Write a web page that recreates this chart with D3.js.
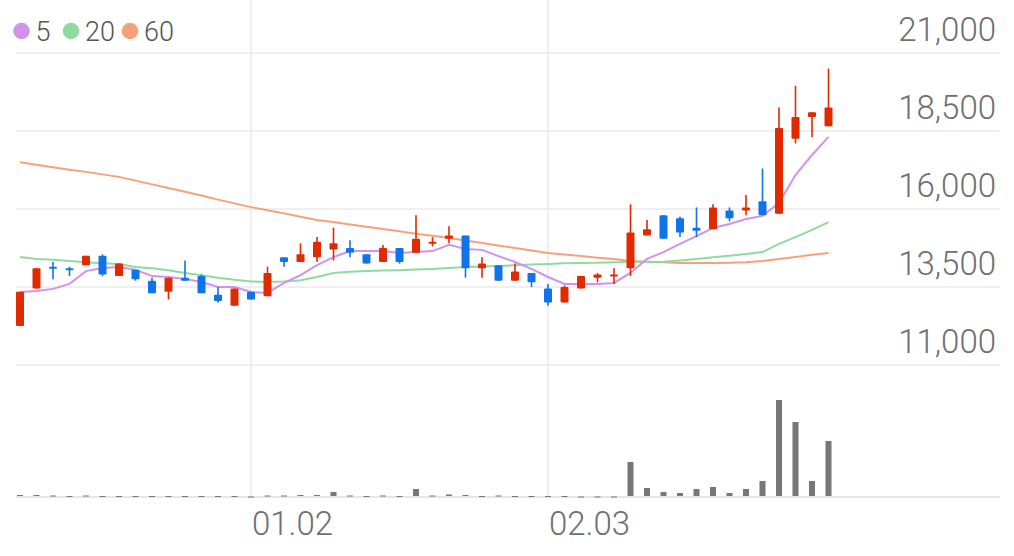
<!DOCTYPE html>
<html>
<head>
<meta charset="utf-8">
<script src="https://cdn.jsdelivr.net/npm/d3@7"></script>
<style>
  html, body { margin: 0; padding: 0; background: #fff; }
  svg { display: block; font-family: Roboto, "Noto Sans", sans-serif; }
</style>
</head>
<body>
<div id="chart"></div>
<script>
// daily candles (KRW)
var opens  = [12250,13450,14150,14100,14200,14500,13850,14050,13700,13350,13800,13850,13250,12900,13350,13200,14450,14300,14450,14700,
              14750,14550,14300,14750,14600,14900,15050,15150,14100,14200,13700,13950,13450,13000,13450,13800,13850,14100,15150,15800,
              15700,15400,15350,15950,15950,16250,15850,18250,18950,18650];
var highs  = [13350,14100,14300,14150,14500,14550,14250,14050,13800,13800,14350,13900,13500,13450,13350,14150,14450,14900,15100,15400,
              15000,14550,14850,14750,15800,15100,15450,15150,14450,14200,14250,13950,13600,13550,13850,13950,14100,16150,15650,15800,
              15750,16050,16150,16050,16450,17300,19250,19950,19100,20500];
var lows   = [12250,13450,13750,13850,14200,13850,13850,13700,13300,13100,13700,13300,13000,12900,13100,13200,14150,14300,14300,14350,
              14450,14250,14300,14250,14600,14800,14900,13800,13800,13700,13700,13500,12900,13000,13450,13650,13600,13850,15150,15050,
              15100,15100,15350,15600,15800,15800,15850,18100,18300,18650];
var closes = [13350,14100,14100,14050,14500,13900,14250,13750,13300,13800,13700,13300,13050,13450,13100,13950,14300,14550,14950,14900,
              14600,14250,14750,14300,15050,14950,15150,14100,14250,13700,14000,13650,13000,13500,13850,13900,13900,15250,15350,15050,
              15250,15300,16050,15700,16050,15800,18600,18950,19100,19250];
// volume, thousand shares
var volumes = [20,20,15,10,15,10,10,10,10,10,10,10,10,10,5,15,15,20,20,50,
               15,10,15,10,80,15,25,20,10,15,10,10,10,10,5,5,5,350,90,50,
               40,80,100,40,80,160,970,750,160,560];
// moving averages as drawn
var ma5  = [13340,13370,13440,13600,14010,14110,14140,14050,13850,13820,13760,13660,13500,13500,13340,13310,13630,13880,14200,14460,
            14650,14650,14650,14590,14620,14650,14850,14720,14690,14490,14300,14080,13820,13600,13600,13600,13630,13950,14400,14620,
            14880,15130,15390,15520,15680,15780,16190,17090,17730,18310];
var ma20 = [14460,14400,14370,14330,14290,14260,14240,14140,14100,14040,13950,13880,13800,13730,13680,13660,13680,13720,13820,13950,
            13990,14010,14030,14040,14060,14080,14110,14140,14160,14170,14200,14220,14240,14260,14270,14280,14290,14300,14300,14310,
            14350,14400,14450,14500,14560,14620,14880,15100,15330,15580];
var ma60 = [17500,17420,17340,17260,17190,17110,17030,16910,16790,16670,16550,16430,16300,16180,16060,15960,15860,15750,15650,15580,
            15500,15430,15360,15290,15210,15140,15070,14990,14910,14830,14750,14670,14590,14540,14490,14440,14400,14330,14310,14290,
            14270,14270,14270,14280,14290,14330,14400,14460,14530,14590];

var yTicks = [11000, 13500, 16000, 18500, 21000];
var xTickLabels = ["01.02", "02.03"];
var xTickIndex = [14, 32];
var maNames = ["5", "20", "60"];

var width = 1014, height = 556;
var UP = "#e12a00", DOWN = "#0f74ea", GRID = "#efefef";
var maColors = ["#d291ec", "#8ddb9f", "#f6a17a"];

var svg = d3.select("#chart").append("svg")
    .attr("width", width)
    .attr("height", height);

var x = d3.scaleBand().domain(d3.range(closes.length)).range([11.75, 836.75]).padding(0);
var cx = function (i) { return x(i) + x.bandwidth() / 2; };
var y = d3.scaleLinear().domain([11000, 21000]).range([365, 53]);
var yv = d3.scaleLinear().domain([0, 1000]).range([497, 397]);

// grid
svg.selectAll(".hgrid").data(yTicks).enter().append("line")
    .attr("x1", 16).attr("x2", 1000)
    .attr("y1", function (d) { return y(d); })
    .attr("y2", function (d) { return y(d); })
    .attr("stroke", GRID).attr("stroke-width", 2);

svg.selectAll(".vgrid").data(xTickIndex).enter().append("line")
    .attr("x1", function (d) { return cx(d); })
    .attr("x2", function (d) { return cx(d); })
    .attr("y1", 0).attr("y2", 497)
    .attr("stroke", GRID).attr("stroke-width", 2);

svg.append("line")
    .attr("x1", 16).attr("x2", 1000)
    .attr("y1", 497).attr("y2", 497)
    .attr("stroke", "#e6e6e6").attr("stroke-width", 2);

// y labels
svg.selectAll(".ylab").data(yTicks).enter().append("text")
    .attr("x", 996)
    .attr("y", function (d) { return y(d) - 12; })
    .attr("text-anchor", "end")
    .attr("font-size", "33px")
    .attr("font-weight", 300)
    .attr("fill", "#6f6f6f")
    .text(function (d) { return d3.format(",")(d); });

// x labels
svg.selectAll(".xlab").data(xTickIndex).enter().append("text")
    .attr("x", function (d) { return cx(d) + 1; })
    .attr("y", 535)
    .attr("font-size", "33px")
    .attr("font-weight", 300)
    .attr("fill", "#6f6f6f")
    .text(function (d, i) { return xTickLabels[i]; });

// volume
svg.selectAll(".vol").data(volumes).enter().append("rect")
    .attr("x", function (d, i) { return cx(i) - 3; })
    .attr("width", 6)
    .attr("y", function (d) { return yv(d); })
    .attr("height", function (d) { return Math.max(1, 496 - yv(d)); })
    .attr("fill", "#777");

// moving averages (drawn under candles)
var line = d3.line()
    .x(function (d, i) { return cx(i); })
    .y(function (d) { return y(d); });

[ma60, ma20, ma5].forEach(function (s, k) {
    svg.append("path")
        .datum(s)
        .attr("d", line)
        .attr("fill", "none")
        .attr("stroke", maColors[2 - k])
        .attr("stroke-width", 2);
});

// candles
var candle = svg.selectAll(".candle").data(closes).enter().append("g");

candle.append("line")
    .attr("x1", function (d, i) { return cx(i); })
    .attr("x2", function (d, i) { return cx(i); })
    .attr("y1", function (d, i) { return y(highs[i]); })
    .attr("y2", function (d, i) { return y(lows[i]); })
    .attr("stroke", function (d, i) { return d >= opens[i] ? UP : DOWN; })
    .attr("stroke-width", 1.6);

candle.append("rect")
    .attr("x", function (d, i) { return cx(i) - 4; })
    .attr("width", 8)
    .attr("y", function (d, i) { return y(Math.max(d, opens[i])); })
    .attr("height", function (d, i) { return Math.max(2, Math.abs(y(d) - y(opens[i]))); })
    .attr("rx", 1)
    .attr("fill", function (d, i) { return d >= opens[i] ? UP : DOWN; });

// legend
var legX = [21.5, 71, 130];
var leg = svg.selectAll(".leg").data(maNames).enter().append("g")
    .attr("transform", function (d, i) { return "translate(" + legX[i] + ",31)"; });
leg.append("circle").attr("r", 8.3).attr("fill", function (d, i) { return maColors[i]; });
leg.append("text")
    .attr("x", 14).attr("y", 9.5)
    .attr("font-size", "27px")
    .attr("font-weight", 300)
    .attr("fill", "#555")
    .text(function (d) { return d; });
</script>
</body>
</html>
